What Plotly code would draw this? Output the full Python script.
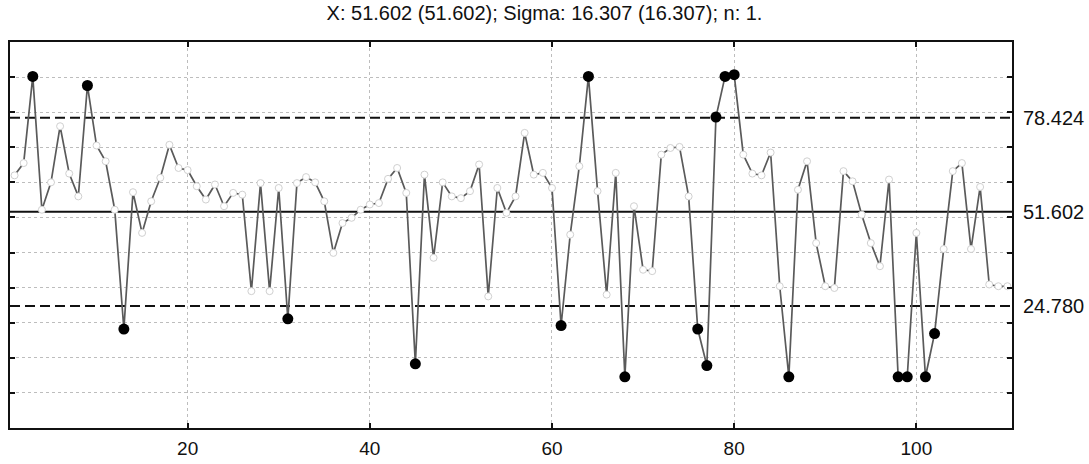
import plotly.graph_objects as go

# sample numbers 1..110
sample = list(range(1, 111))
values = [
    62.0, 65.5, 90.2, 52.2, 60.0, 76.0, 62.5, 56.0, 87.6, 70.5,
    66.0, 52.2, 18.2, 57.2, 45.6, 54.6, 61.3, 70.7, 64.1, 63.5,
    58.9, 55.1, 59.4, 53.2, 57.0, 56.5, 29.0, 59.8, 29.0, 58.4,
    21.1, 59.8, 61.5, 60.0, 54.6, 39.9, 48.4, 49.9, 52.2, 53.7,
    54.1, 61.0, 64.1, 57.0, 8.3, 62.2, 38.5, 60.0, 56.0, 55.5,
    57.5, 65.1, 27.5, 58.4, 51.3, 56.0, 74.1, 62.2, 62.7, 58.4,
    19.2, 45.1, 64.6, 90.2, 57.5, 28.0, 62.7, 4.6, 53.2, 35.1,
    34.7, 67.9, 69.8, 70.1, 56.0, 18.2, 7.8, 78.6, 90.2, 90.7,
    67.9, 62.5, 62.0, 68.5, 30.4, 4.6, 57.9, 66.0, 42.7, 30.4,
    29.9, 63.2, 60.3, 50.8, 42.7, 36.1, 60.8, 4.6, 4.6, 45.6,
    4.6, 16.9, 41.0, 63.2, 65.5, 41.0, 58.7, 30.9, 30.4, 30.4,
]

center_line = 51.602
upper_limit = 78.424
lower_limit = 24.780
limit_labels = ["24.780", "51.602", "78.424"]
x_ticks = [20, 40, 60, 80, 100]
y_ticks = list(range(0, 100, 10))
title_text = "X: 51.602 (51.602); Sigma: 16.307 (16.307); n: 1."

out_x = [s for s, v in zip(sample, values) if v > upper_limit or v < lower_limit]
out_y = [v for v in values if v > upper_limit or v < lower_limit]

x_range = [0.5, 110.5]
y_range = [-10, 100]

fig = go.Figure()

for yv, dash in [(upper_limit, "10px,5px"), (lower_limit, "10px,5px"), (center_line, "solid")]:
    fig.add_trace(go.Scatter(
        x=x_range, y=[yv, yv], mode="lines",
        line=dict(color="#111111", width=2, dash=dash),
        hoverinfo="skip", showlegend=False,
    ))

fig.add_trace(go.Scatter(
    x=sample, y=values, mode="lines+markers",
    line=dict(color="#5a5a5a", width=1.7),
    marker=dict(symbol="circle", size=7, color="white",
                line=dict(color="#d0d0d0", width=1)),
    showlegend=False,
))

fig.add_trace(go.Scatter(
    x=out_x, y=out_y, mode="markers",
    marker=dict(symbol="circle", size=11, color="#000000"),
    showlegend=False,
))

# invisible trace to activate right axis
fig.add_trace(go.Scatter(x=x_range, y=y_range, yaxis="y2", mode="markers",
                         marker=dict(opacity=0), hoverinfo="skip", showlegend=False))

fig.update_layout(
    width=1089, height=464,
    margin=dict(l=10, r=77, t=42, b=36),
    paper_bgcolor="white", plot_bgcolor="white",
    font=dict(family="Liberation Sans, Arial, sans-serif", color="#111111"),
    title=dict(text=title_text, x=0.5, xref="container", xanchor="center",
               y=1 - 13 / 464, yref="container", yanchor="middle",
               font=dict(size=20, color="#111111")),
    xaxis=dict(range=x_range, tickvals=x_ticks, ticks="inside", ticklen=5,
               tickwidth=1.5, tickcolor="#111111",
               showline=True, linecolor="#111111", linewidth=2, mirror="ticks",
               showgrid=True, gridcolor="#bdbdbd", griddash="dot", gridwidth=1,
               zeroline=False, tickfont=dict(size=19), ticklabelstandoff=2,
               automargin=False),
    yaxis=dict(range=y_range, tickvals=y_ticks, ticks="inside", ticklen=5,
               tickwidth=1.5, tickcolor="#111111", showticklabels=False,
               showline=True, linecolor="#111111", linewidth=2, mirror="ticks",
               showgrid=True, gridcolor="#bdbdbd", griddash="dot", gridwidth=1,
               zeroline=False, automargin=False),
    yaxis2=dict(range=y_range, overlaying="y", side="right",
                tickvals=[lower_limit, center_line, upper_limit],
                ticktext=limit_labels, ticks="", showgrid=False, zeroline=False,
                showline=False, tickfont=dict(size=20), ticklabelstandoff=10,
                automargin=False),
)

fig.write_html("out.html")
